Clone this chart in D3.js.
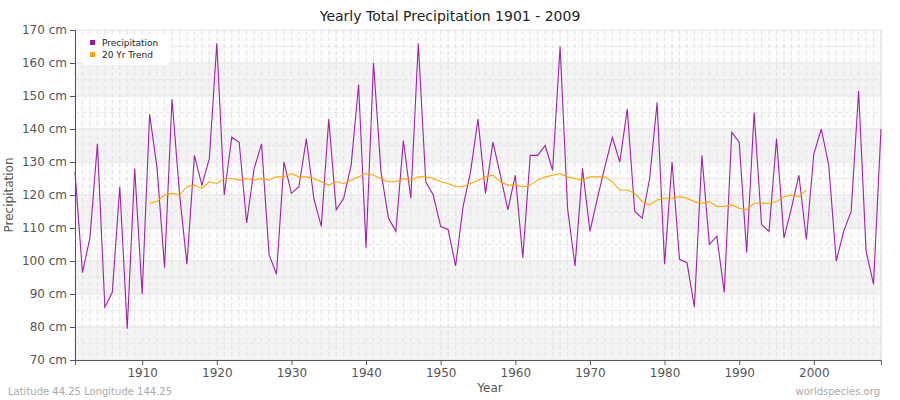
<!DOCTYPE html><html><head><meta charset="utf-8"><script src="https://cdn.jsdelivr.net/npm/d3@7"></script>
<style>body{margin:0;background:#fff}text{font-family:"DejaVu Sans",sans-serif}</style></head><body><svg id="c" width="900" height="400"></svg><script>
const years = d3.range(1901, 2010);
const precip = [127,96.5,107,135.5,86,90.5,122.5,79.5,128,90,144.5,128,98,149,120.5,99,132,123,131,166,120,137.5,136,111.5,128,135.5,102,96,130,120.5,122.5,137,119,110.5,143,115.5,119,129,153.5,104,160,127,113,109,136.5,119,166,124,120,110.5,109.5,98.5,116.5,127,143,120.5,136,126,115.5,126,101,132,132,135,127.5,165,116,98.5,128,109,119,128.5,137.5,130,146,115,113,125,148,99,130,100.5,99.5,86,132,105,107.5,90.5,139,136,102.5,145,111,109,137,107,116,126,106.5,132.5,140,129,100,109,115,151.5,103,93,140];
const trendYears = d3.range(1911, 2000);
const trend = [117.5,118,120,120.5,120,122.5,123,122,124,123.5,125,125,124.5,125,124.5,125,124.5,125.5,125.5,126.5,125.5,125.5,125,124,123,124,123.5,124.5,125.5,126.5,126,125,124,124,125,124.5,125.5,125.5,125,124,123.5,122.5,122.5,123.5,124.5,125.5,126,124,123,123,122.5,123,124.5,125.5,126,126.5,125.5,125,124.5,125.5,125.5,125.5,124,121.5,121.5,120.5,118,117,118.5,119,119,119.5,119,118,117.5,118,116.5,116.5,117,116,115.5,117.5,117.5,117.5,118,119.5,120,119.5,121.5];
const yTicks = [70,80,90,100,110,120,130,140,150,160,170];
const xTicks = [1910,1920,1930,1940,1950,1960,1970,1980,1990,2000];

const svg = d3.select('#c');
const L=75,R=881,T=30,B=360;
const x = d3.scaleLinear().domain([1901,2009]).range([L,R]);
const y = d3.scaleLinear().domain([70,170]).range([B,T]);
svg.append('rect').attr('x',L).attr('y',T).attr('width',R-L).attr('height',B-T).attr('fill','#fcfcfc');
for(let v=70; v<170; v+=20){
  svg.append('rect').attr('x',L).attr('width',R-L).attr('y',y(v+10)).attr('height',y(v)-y(v+10)).attr('fill','#f3f3f3');
}
years.forEach(yr=>svg.append('line').attr('x1',x(yr)).attr('x2',x(yr)).attr('y1',T).attr('y2',B).attr('stroke','#e0e0e0').attr('stroke-dasharray','4,3'));
d3.range(75,170,10).forEach(v=>svg.append('line').attr('x1',L).attr('x2',R).attr('y1',y(v)).attr('y2',y(v)).attr('stroke','#e6e6e6').attr('stroke-dasharray','4,3'));
yTicks.forEach(v=>svg.append('line').attr('x1',L).attr('x2',R).attr('y1',y(v)).attr('y2',y(v)).attr('stroke','#e2e2e2'));
svg.append('line').attr('x1',R).attr('x2',R).attr('y1',T).attr('y2',B).attr('stroke','#ddd');

const ya = svg.append('g').attr('transform',`translate(${L},0)`).call(d3.axisLeft(y).tickValues(yTicks).tickFormat(d=>d+' cm').tickSize(5));
ya.selectAll('text').attr('fill','#555').style('font-size','12px');
ya.selectAll('line,path').attr('stroke','#555');
const xa = svg.append('g').attr('transform',`translate(0,${B})`).call(d3.axisBottom(x).tickValues(xTicks).tickFormat(d3.format('d')).tickSize(5));
xa.selectAll('text').attr('fill','#555').style('font-size','12px');
xa.selectAll('line,path').attr('stroke','#555');

svg.append('path').datum(precip).attr('fill','none').attr('stroke','#a020a8').attr('stroke-width',1.1)
 .attr('d',d3.line().x((d,i)=>x(years[i])).y(d=>y(d)));
svg.append('path').datum(trend).attr('fill','none').attr('stroke','#ffa500').attr('stroke-width',1.1)
 .attr('d',d3.line().x((d,i)=>x(trendYears[i])).y(d=>y(d)));

svg.append('text').attr('x',450).attr('y',21).attr('text-anchor','middle').style('font-size','14px').attr('fill','#222').text('Yearly Total Precipitation 1901 - 2009');
svg.append('text').attr('transform','translate(13,195) rotate(-90)').attr('text-anchor','middle').style('font-size','12px').attr('fill','#555').text('Precipitation');
svg.append('text').attr('x',490).attr('y',392).attr('text-anchor','middle').style('font-size','12px').attr('fill','#555').text('Year');
svg.append('text').attr('x',8).attr('y',395).style('font-size','10px').attr('fill','#aaa').text('Latitude 44.25 Longitude 144.25');
svg.append('text').attr('x',880).attr('y',395).attr('text-anchor','end').style('font-size','10px').attr('fill','#aaa').text('worldspecies.org');

const lg = svg.append('g');
lg.append('rect').attr('x',82).attr('y',35).attr('width',88).attr('height',30).attr('rx',4).attr('fill','#fff').attr('opacity',0.9);
[['Precipitation','#a0189a'],['20 Yr Trend','#ffa500']].forEach((d,i)=>{
  lg.append('rect').attr('x',90).attr('y',40+i*12).attr('width',5).attr('height',5).attr('fill',d[1]);
  lg.append('text').attr('x',102).attr('y',46+i*12).style('font-size','9px').attr('fill','#222').text(d[0]);
});
</script></body></html>
